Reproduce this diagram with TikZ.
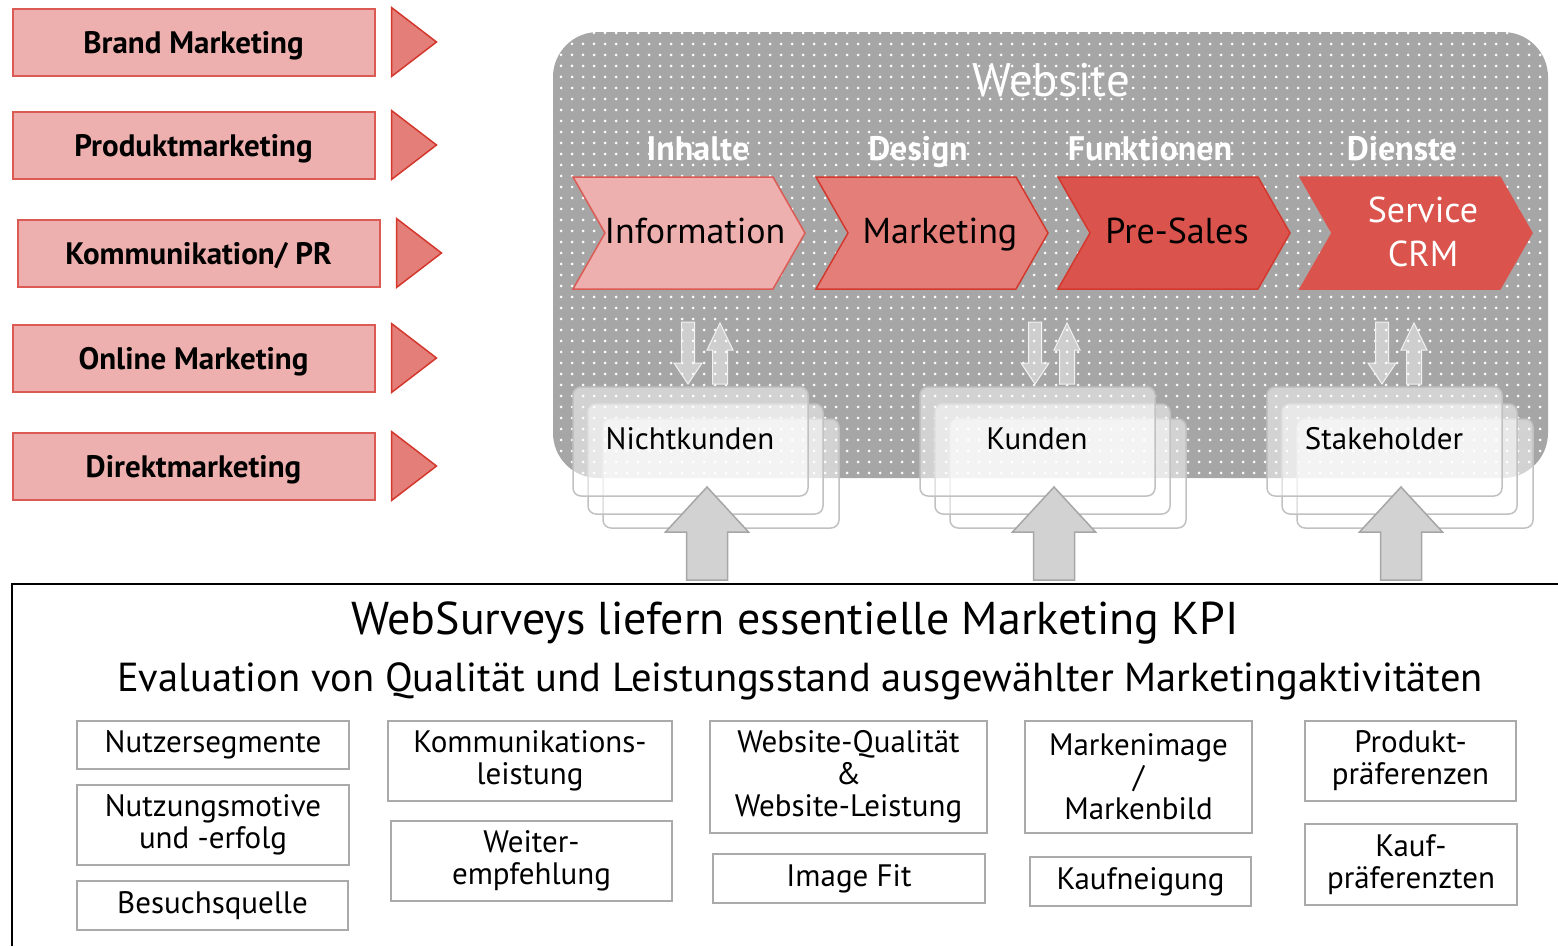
\documentclass[tikz,border=0pt]{standalone}
\usepackage{fontspec}
\setmainfont{PT Sans}
\usetikzlibrary{patterns.meta}

\definecolor{rose}{HTML}{EDB0AE}
\definecolor{roseline}{HTML}{DC5A54}
\definecolor{salmon}{HTML}{E37E79}
\definecolor{brick}{HTML}{D4382D}
\definecolor{scarlet}{HTML}{DA534C}
\definecolor{webgray}{HTML}{A6A6A6}
\definecolor{boxgray}{HTML}{AAAAAA}

\begin{document}
\begin{tikzpicture}[x=1pt, y=-1pt,
    channel/.style={draw=roseline, line width=2pt, fill=rose, minimum width=362pt, minimum height=67pt, inner sep=0pt, text height=22pt, text depth=0pt, font=\fontsize{31}{33}\selectfont\bfseries},
    pointer/.style={draw=brick, line width=1.5pt, fill=salmon, line join=miter},
    head/.style={text=white, text height=24pt, text depth=0pt, font=\fontsize{34}{36}\selectfont\bfseries},
    stagetext/.style={font=\fontsize{36}{44}\selectfont, align=center},
    ghost/.style={draw=webgray!70, line width=1.5pt, fill=white, fill opacity=0.5, rounded corners=8pt},
    ghostarrow/.style={draw=white!85!webgray, line width=1pt, fill=white, fill opacity=0.45},
    bigarrow/.style={draw=webgray, line width=1.5pt, fill=webgray!50},
    group/.style={text height=22pt, text depth=0pt, font=\fontsize{31}{33}\selectfont},
    kpibox/.style={draw=boxgray, line width=2pt, inner sep=0pt, align=center, font=\fontsize{31}{32}\selectfont}
]
    \useasboundingbox (0,0) rectangle (1558,946);

    % Marketing channels
    \node[channel] (brand)  at (193.5,42)  {Brand Marketing};
    \node[channel] (produkt) at (193.5,145) {Produktmarketing};
    \node[channel] (pr)     at (198.5,253) {Kommunikation/ PR};
    \node[channel] (online) at (193.5,358) {Online Marketing};
    \node[channel] (direkt) at (193.5,466) {Direktmarketing};
    \foreach \ch in {brand, produkt, pr, online, direkt}
        \draw[pointer] ([xshift=16pt]\ch.north east) -- ([xshift=61pt]\ch.east) -- ([xshift=16pt]\ch.south east) -- cycle;

    % Website area
    \fill[webgray, rounded corners=45pt] (553,32) rectangle (1548,478);
    \fill[pattern={Dots[radius=1.5pt, distance=11pt]}, pattern color=white, rounded corners=45pt] (553,32) rectangle (1548,478);
    \node[text=white, font=\fontsize{47}{49}\selectfont] (website) at (1051,80) {Website};

    % Headings
    \node[head] (inhalte) at (698,148)  {Inhalte};
    \node[head] (design)  at (918,148)  {Design};
    \node[head] (funk)    at (1150,148) {Funktionen};
    \node[head] (dienste) at (1402,148) {Dienste};

    % Stages
    \foreach \x/\col/\edge in {573/rose/roseline, 816/salmon/brick, 1058/scarlet/brick, 1300/scarlet/scarlet}
        \draw[fill=\col, draw=\edge, line width=1.5pt] (\x,177) -- ++(200,0) -- ++(32,56) -- ++(-32,56) -- ++(-200,0) -- ++(32,-56) -- cycle;
    \node[stagetext, text height=25pt, text depth=0pt] (info)     at (695,231)  {Information};
    \node[stagetext, text height=25pt, text depth=0pt] (mkt)      at (940,231)  {Marketing};
    \node[stagetext, text height=25pt, text depth=0pt] (presales) at (1177,231) {Pre-Sales};
    \node[stagetext, text=white] (service) at (1423,232) {Service\\CRM};

    % Target groups
    \foreach \x/\grp/\lbl in {573/non/Nichtkunden, 920/cust/Kunden, 1267/stake/Stakeholder} {
        \draw[ghost] (\x+30,419) rectangle ++(236,109);
        \draw[ghost] (\x+15,404) rectangle ++(235,110);
        \draw[ghost] (\x,387) rectangle ++(235,109);
        \node[group] (\grp) at (\x+117,438) {\lbl};
        % small arrows down and up
        \draw[ghostarrow] (\x+108.5,322) -- (\x+121.5,322) -- (\x+121.5,363) -- (\x+129,363) -- (\x+115,384) -- (\x+101,363) -- (\x+108.5,363) -- cycle;
        \draw[ghostarrow] (\x+147,323) -- (\x+160,350) -- (\x+154.5,350) -- (\x+154.5,384) -- (\x+139.5,384) -- (\x+139.5,350) -- (\x+134,350) -- cycle;
        % big arrow from below
        \draw[bigarrow] (\x+134,487) -- (\x+175.5,532) -- (\x+154.5,532) -- (\x+154.5,580) -- (\x+113.5,580) -- (\x+113.5,532) -- (\x+92.5,532) -- cycle;
    }

    % Survey frame
    \draw[line width=2pt] (12,946) -- (12,584) -- (1558,584);
    \node[text height=32pt, text depth=0pt, font=\fontsize{46}{48}\selectfont] (kpi) at (795,618) {WebSurveys liefern essentielle Marketing KPI};
    \node[text height=28pt, text depth=0pt, font=\fontsize{40.5}{42}\selectfont] (eval) at (800,677) {Evaluation von Qualität und Leistungsstand ausgewählter Marketingaktivitäten};

    % KPI boxes
    \node[kpibox, minimum width=272pt, minimum height=48pt] (segm)   at (213,745)    {Nutzersegmente};
    \node[kpibox, minimum width=272pt, minimum height=80pt] (motive) at (213,825)    {Nutzungsmotive\\und -erfolg};
    \node[kpibox, minimum width=271pt, minimum height=49pt] (source) at (212.5,905.5) {Besuchsquelle};
    \node[kpibox, minimum width=284pt, minimum height=80pt] (comm)   at (530,761)    {Kommunikations-\\leistung};
    \node[kpibox, minimum width=281pt, minimum height=80pt] (refer)  at (531.5,861)  {Weiter-\\empfehlung};
    \node[kpibox, minimum width=277pt, minimum height=112pt] (quality) at (848.5,777) {Website-Qualität\\\&\\Website-Leistung};
    \node[kpibox, minimum width=272pt, minimum height=49pt] (fit)    at (849,878.5)  {Image Fit};
    \node[kpibox, minimum width=227pt, minimum height=112pt] (image) at (1138.5,777) {Markenimage\\/\\Markenbild};
    \node[kpibox, minimum width=221pt, minimum height=49pt] (intent) at (1140.5,881.5) {Kaufneigung};
    \node[kpibox, minimum width=211pt, minimum height=80pt] (prodpref) at (1410.5,761) {Produkt-\\präferenzen};
    \node[kpibox, minimum width=212pt, minimum height=81pt] (buypref)  at (1411,864.5) {Kauf-\\präferenzten};
\end{tikzpicture}
\end{document}
